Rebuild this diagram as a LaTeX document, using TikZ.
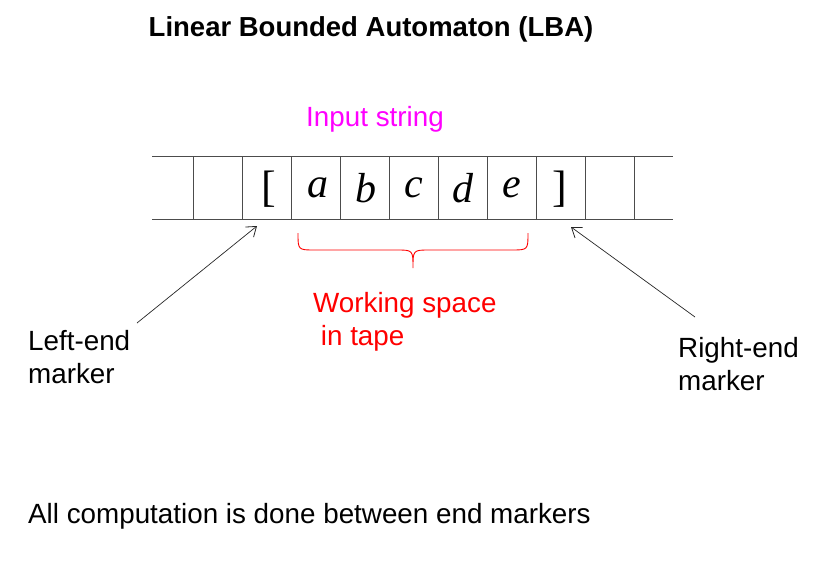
\documentclass[tikz,border=0pt]{standalone}
\usepackage{fontspec}
\setmainfont{Liberation Sans}
\newfontfamily\tapefont{Liberation Serif}
\usetikzlibrary{arrows.meta}
\definecolor{inmag}{RGB}{255,0,255}
\definecolor{wred}{RGB}{255,0,0}
\tikzset{
  tapeline/.style={draw=black!70, line width=0.9pt},
  sym/.style={font=\tapefont\itshape\fontsize{42}{46}\selectfont, inner sep=0pt},
  brk/.style={font=\tapefont\fontsize{44}{48}\selectfont, inner sep=0pt},
  lbl/.style={font=\fontsize{27.8}{33}\selectfont, inner sep=0pt, align=left},
  ptr/.style={draw=black!85, line width=0.7pt, -{Straight Barb[length=9pt,width=13pt,line width=0.8pt]}},
}
\begin{document}
\begin{tikzpicture}[x=1pt,y=-1pt]
\useasboundingbox (0,0) rectangle (823,565);
% title
\node[font=\bfseries\fontsize{27.5}{32}\selectfont, inner sep=0pt] (title) at (371,29) {Linear Bounded Automaton (LBA)};
% tape
\draw[tapeline] (152,156) -- (673,156);
\draw[tapeline] (152,219) -- (673,219);
\foreach \x in {193,242,291,340,389,438,487,536,585,634}
  \draw[tapeline] (\x,156) -- (\x,219);
\node[brk] (lb) at (269,189) {[};
\node[sym] (sa) at (318,188) {a};
\node[sym] (sb) at (366,188) {b};
\node[sym] (sc) at (414,188) {c};
\node[sym] (sd) at (463,188) {d};
\node[sym] (se) at (512,188) {e};
\node[brk] (rb) at (560,189) {]};
% input string
\node[lbl, text=inmag] (inp) at (375,119) {Input string};
% brace
\draw[wred, line width=0.9pt] (298,233) .. controls (298,250) .. (315,250) -- (396,250)
  .. controls (413,250) .. (413,268) .. controls (413,250) .. (430,250) -- (511,250)
  .. controls (528,250) .. (528,233);
\node[lbl, text=wred, anchor=west] (work) at (313,322) {Working space\\\ in tape};
% markers
\node[lbl, anchor=west] (lem) at (28,357) {Left-end\\marker};
\node[lbl, anchor=west] (rem) at (678,364) {Right-end\\marker};
\coordinate (ls) at (137,323);
\coordinate (lt) at (257,226);
\coordinate (rs) at (695,317);
\coordinate (rt) at (571,227);
\draw[ptr] (ls) -- (lt);
\draw[ptr] (rs) -- (rt);
% bottom
\node[lbl, anchor=west] (note) at (28,516) {All computation is done between end markers};
\end{tikzpicture}
\end{document}
